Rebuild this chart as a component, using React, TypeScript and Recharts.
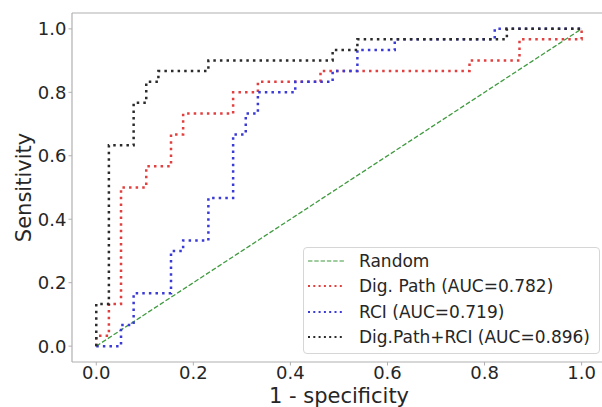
import React from 'react';
import { LineChart, Line, XAxis, YAxis, ReferenceLine, Legend } from 'recharts';

const ticks = [0, 0.2, 0.4, 0.6, 0.8, 1.0];

const randomX = [0, 1];
const randomY = [0, 1];

const pathX = [0, 0, 0.026, 0.026, 0.051, 0.051, 0.103, 0.103, 0.154, 0.154, 0.179, 0.179, 0.282, 0.282, 0.333, 0.333, 0.462, 0.462, 0.769, 0.769, 0.872, 0.872, 1.0, 1.0];
const pathY = [0, 0.033, 0.033, 0.133, 0.133, 0.5, 0.5, 0.567, 0.567, 0.667, 0.667, 0.733, 0.733, 0.8, 0.8, 0.833, 0.833, 0.867, 0.867, 0.9, 0.9, 0.967, 0.967, 1.0];

const rciX = [0, 0.051, 0.051, 0.077, 0.077, 0.154, 0.154, 0.179, 0.179, 0.231, 0.231, 0.282, 0.282, 0.308, 0.308, 0.333, 0.333, 0.41, 0.41, 0.487, 0.487, 0.538, 0.538, 0.615, 0.615, 0.821, 0.821, 1.0];
const rciY = [0, 0, 0.067, 0.067, 0.167, 0.167, 0.3, 0.3, 0.333, 0.333, 0.467, 0.467, 0.667, 0.667, 0.733, 0.733, 0.8, 0.8, 0.833, 0.833, 0.867, 0.867, 0.933, 0.933, 0.967, 0.967, 1.0, 1.0];

const combX = [0, 0, 0.026, 0.026, 0.077, 0.077, 0.103, 0.103, 0.128, 0.128, 0.231, 0.231, 0.487, 0.487, 0.538, 0.538, 0.846, 0.846, 1.0];
const combY = [0, 0.133, 0.133, 0.633, 0.633, 0.767, 0.767, 0.833, 0.833, 0.867, 0.867, 0.9, 0.9, 0.933, 0.933, 0.967, 0.967, 1.0, 1.0];

const seriesNames = ['Random', 'Dig. Path (AUC=0.782)', 'RCI (AUC=0.719)', 'Dig.Path+RCI (AUC=0.896)'];

const toPts = (xs: number[], ys: number[]) => xs.map((x, i) => ({ x, y: ys[i] }));

const FONT = '"DejaVu Sans", sans-serif';
const FRAME = '#b0b0b0';

const series = [
  { name: seriesNames[0], data: toPts(randomX, randomY), color: '#3f9a3f', width: 1.3, dash: '4.8 2.1' },
  { name: seriesNames[1], data: toPts(pathX, pathY), color: '#e23f3f', width: 2.5, dash: '2.5 4.1' },
  { name: seriesNames[2], data: toPts(rciX, rciY), color: '#3a3ad6', width: 2.5, dash: '2.5 4.1' },
  { name: seriesNames[3], data: toPts(combX, combY), color: '#2b2b2b', width: 2.5, dash: '2.5 4.1' },
];

const LegendBox = () => (
  <div
    style={{
      boxSizing: 'border-box',
      width: 297,
      height: 107,
      border: '1px solid #d6d6d6',
      borderRadius: 4,
      background: 'rgba(255,255,255,0.85)',
      position: 'relative',
      fontFamily: FONT,
    }}
  >
    {series.map((s, i) => (
      <div
        key={s.name}
        style={{ position: 'absolute', left: 0, top: 13 + i * 25.3 - 12, height: 24, display: 'flex', alignItems: 'center' }}
      >
        <svg width={52} height={24} style={{ display: 'block' }}>
          <line x1={4} x2={40} y1={12} y2={12} stroke={s.color} strokeWidth={s.width === 2.5 ? 2 : 1.2} strokeDasharray={s.width === 2.5 ? '2 3.3' : '4.4 1.9'} />
        </svg>
        <span style={{ fontSize: 17, color: '#262626', whiteSpace: 'nowrap', marginLeft: 3 }}>{s.name}</span>
      </div>
    ))}
  </div>
);

const XLabel = (props: any) => {
  const vb = props.viewBox || {};
  return (
    <text x={vb.x + vb.width / 2 + 2} y={403} textAnchor="middle" fontSize={21} fontFamily={FONT} fill="#262626">
      1 - specificity
    </text>
  );
};

const YLabel = (props: any) => {
  const vb = props.viewBox || {};
  const cy = vb.y + vb.height / 2;
  return (
    <text x={31} y={cy} transform={`rotate(-90 31 ${cy})`} textAnchor="middle" fontSize={21} fontFamily={FONT} fill="#262626">
      Sensitivity
    </text>
  );
};

export default function App() {
  return (
    <div style={{ position: 'absolute', left: 0, top: 0, width: 602, height: 407, background: '#fff' }}>
      <LineChart width={602} height={407} margin={{ top: 13, right: 0, bottom: 0, left: 0 }}>
        <XAxis
          type="number"
          dataKey="x"
          domain={[-0.05, 1.042]}
          ticks={ticks}
          tickFormatter={(v: number) => v.toFixed(1)}
          allowDataOverflow
          height={45}
          axisLine={{ stroke: FRAME, strokeWidth: 1.2 }}
          tickLine={{ stroke: FRAME }}
          tickSize={3.5}
          tickMargin={1}
          tick={{ fill: '#262626', fontSize: 18, fontFamily: FONT }}
          label={<XLabel />}
        />
        <YAxis
          type="number"
          dataKey="y"
          domain={[-0.05, 1.05]}
          ticks={ticks}
          tickFormatter={(v: number) => v.toFixed(1)}
          allowDataOverflow
          width={72}
          axisLine={{ stroke: FRAME, strokeWidth: 1.2 }}
          tickLine={{ stroke: FRAME }}
          tickSize={3.5}
          tick={{ fill: '#262626', fontSize: 18, fontFamily: FONT }}
          label={<YLabel />}
        />
        <ReferenceLine y={1.05} stroke={FRAME} strokeWidth={1.2} />
        {series.map((s) => (
          <Line
            key={s.name}
            data={s.data}
            dataKey="y"
            name={s.name}
            type="linear"
            stroke={s.color}
            strokeWidth={s.width}
            strokeDasharray={s.dash}
            dot={false}
            activeDot={false}
            isAnimationActive={false}
          />
        ))}
        <Legend
          layout="horizontal"
          verticalAlign="middle"
          align="center"
          content={() => <LegendBox />}
          wrapperStyle={{ position: 'absolute', left: 303, top: 247, width: 297, height: 107 }}
        />
      </LineChart>
    </div>
  );
}
